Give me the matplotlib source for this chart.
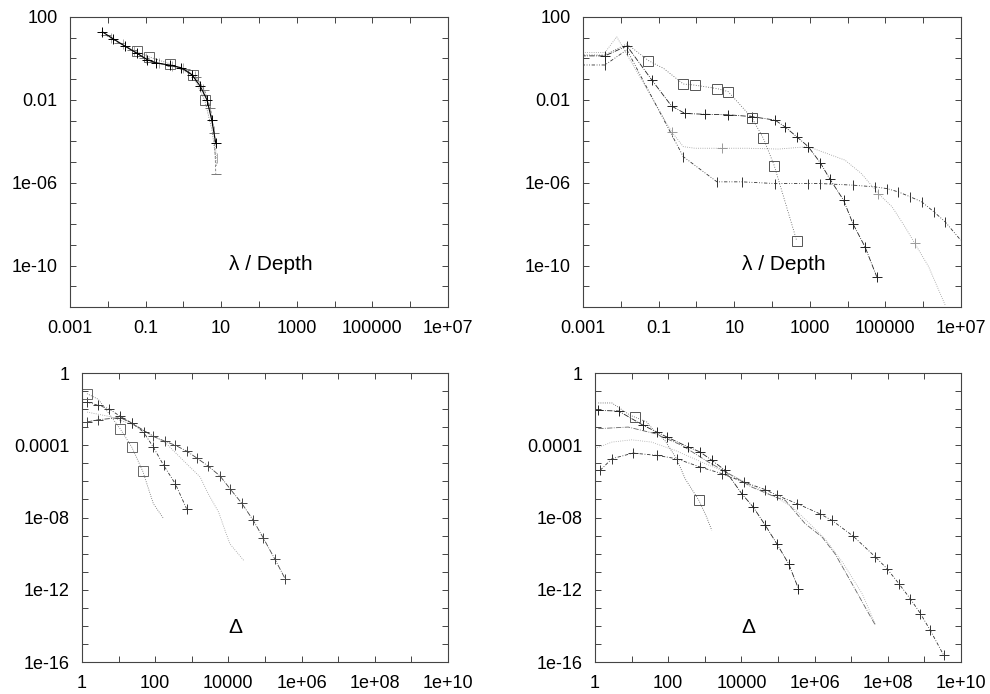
import numpy as np
import matplotlib
matplotlib.use("Agg")
import matplotlib.pyplot as plt
from matplotlib.ticker import FixedLocator, FixedFormatter

plt.rcParams['font.family'] = ['Liberation Sans', 'DejaVu Sans']

# ---- panel 1 (top left): lambda / depth, few layers
p1_a_x = [0.0072, 0.014, 0.029, 0.058, 0.11, 0.19, 0.45, 0.89, 1.7, 2.8, 4.2, 5.6, 7.2]
p1_a_y = [19, 8.7, 3.8, 1.8, 0.87, 0.60, 0.47, 0.35, 0.16, 0.045, 0.010, 1.1e-3, 8.1e-5]
p1_b_x = [0.058, 0.12, 0.45, 1.8, 3.7, 5.8, 7.6]
p1_b_y = [2.2, 1.2, 0.54, 0.15, 0.0093, 3e-4, 6.3e-6]
p1_c_x = [0.009, 0.02, 0.045, 0.09, 0.2, 0.5, 1.1, 2.2, 3.6, 5.2, 6.6, 7.2]
p1_c_y = [13, 5.5, 2.6, 1.05, 0.62, 0.42, 0.30, 0.12, 0.03, 0.004, 2.5e-4, 2.7e-6]
p1_d_x = [0.012, 0.025, 0.05, 0.1, 0.22, 0.5, 1.0, 2.0, 3.4, 5.0, 6.4, 7.6]
p1_d_y = [10, 4.8, 2.2, 1.0, 0.58, 0.42, 0.33, 0.14, 0.035, 0.005, 3e-4, 1.5e-5]

# ---- panel 2 (top right): lambda / depth, more layers
p2_sq_x = [0.0005, 0.0038, 0.0145, 0.054, 0.135, 0.45, 0.91, 3.5, 6.9, 29, 59, 115, 450]
p2_sq_y = [1.45, 1.45, 5.0, 0.78, 0.33, 0.058, 0.051, 0.035, 0.025, 1.4e-3, 1.4e-4, 6.6e-6, 1.6e-9]
p2_a_x = [0.0005, 0.0038, 0.0145, 0.066, 0.22, 0.50, 1.7, 6.9, 29, 120, 220, 450, 910,
          1900, 3400, 7800, 14000, 29000, 59000]
p2_a_y = [1.32, 1.32, 4.0, 0.091, 5.0e-3, 2.2e-3, 2.0e-3, 1.9e-3, 1.55e-3, 1.05e-3, 5.0e-4,
          1.66e-4, 5.5e-5, 9.1e-6, 1.5e-6, 1.45e-7, 1.0e-8, 7.9e-10, 2.9e-11]
p2_b_x = [0.0005, 0.0038, 0.0078, 0.22, 0.45, 0.91, 4.7, 23, 150, 910, 8500, 23000, 65000,
          150000, 330000, 600000, 1.4e6, 3.8e6]
p2_b_y = [1.9, 1.9, 11, 2.9e-4, 5.5e-5, 4.6e-5, 4.6e-5, 4.6e-5, 4.2e-5, 5.5e-5, 1.23e-5,
          2.8e-6, 3.0e-7, 6.9e-8, 7.4e-9, 1.17e-9, 8.7e-11, 1.26e-12]
p2_c_x = [0.0005, 0.0038, 0.0145, 0.45, 3.5, 16, 120, 910, 1900, 14000, 52000, 110000,
          220000, 450000, 910000, 1.9e6, 3.8e6, 9.8e6]
p2_c_y = [0.48, 0.48, 2.6, 1.8e-5, 1.1e-6, 1.1e-6, 9.1e-7, 9.1e-7, 9.1e-7, 7.6e-7, 6.3e-7,
          5.2e-7, 3.6e-7, 2.1e-7, 1.2e-7, 4.0e-8, 1.3e-8, 1.7e-9]

# ---- panel 3 (bottom left): Delta
p3_sq_x = [1.37, 2.8, 11, 23, 46, 89, 170]
p3_sq_y = [0.072, 0.035, 8.3e-4, 7.9e-5, 3.6e-6, 5.9e-8, 8.7e-9]
p3_a_x = [1.38, 2.8, 5.4, 11, 23, 48, 89, 170, 355, 720]
p3_a_y = [0.0245, 0.0162, 0.0107, 4.0e-3, 1.7e-3, 5.4e-4, 7.9e-5, 7.8e-6, 7.4e-7, 3.1e-8]
p3_b_x = [1.38, 5.4, 23, 48, 200, 720, 1700, 2800, 5400, 8100, 11000, 26000]
p3_b_y = [6.9e-3, 4.0e-3, 1.45e-3, 6.8e-4, 1.26e-4, 9.5e-6, 1.74e-6, 2.1e-7, 2.0e-8,
          1.95e-9, 3.5e-10, 4.3e-11]
p3_c_x = [1.38, 2.8, 11, 23, 89, 186, 355, 720, 1380, 2800, 5900, 11000, 23000, 48000,
          89000, 186000, 355000]
p3_c_y = [1.95e-3, 2.6e-3, 3.4e-3, 1.7e-3, 3.1e-4, 1.66e-4, 1.0e-4, 4.8e-5, 1.95e-5,
          7.1e-6, 2.0e-6, 4.0e-7, 6.3e-8, 6.9e-9, 7.6e-10, 5.0e-11, 4.1e-12]

# ---- panel 4 (bottom right): Delta, more layers
p4_sq_x = [1.23, 2.9, 9.1, 12.3, 26, 40, 81, 170, 290, 690, 1120, 1550]
p4_sq_y = [0.022, 0.022, 4.6e-3, 3.6e-3, 1.95e-3, 6.8e-4, 1.86e-4, 1.8e-5, 1.4e-6,
           8.9e-8, 1.07e-8, 1.95e-9]
p4_a_x = [1.23, 4.4, 21, 49, 91, 355, 740, 1550, 3600, 10200, 21000, 45000, 93000,
          195000, 363000]
p4_a_y = [8.5e-3, 7.9e-3, 1.26e-3, 5.4e-4, 2.9e-4, 7.9e-5, 4.3e-5, 1.48e-5, 4.1e-6,
          2.1e-7, 3.8e-8, 3.7e-9, 3.5e-10, 2.75e-11, 1.15e-12]
p4_b_x = [1.23, 8.1, 44, 234, 1260, 4500, 19000, 83000, 158000, 550000, 1.6e6, 3.6e6,
          1.05e7, 2.4e7, 4.6e7]
p4_b_y = [8.3e-4, 1.02e-3, 4.4e-4, 1.0e-4, 1.17e-5, 2.7e-6, 4.9e-7, 1.38e-7, 8.9e-8,
          4.6e-9, 8.3e-10, 1.0e-10, 2.2e-12, 1.1e-13, 1.07e-14]
p4_c_x = [1.0, 2.9, 10, 35, 155, 830, 4500, 20000, 83000, 240000, 700000, 2.0e6, 6.0e6,
          2.0e7, 4.6e7]
p4_c_y = [6.5e-5, 1.5e-4, 2.0e-4, 1.5e-4, 5.2e-5, 1.17e-5, 2.7e-6, 5.6e-7, 1.4e-7,
          4e-8, 5e-9, 6e-10, 3e-11, 6e-13, 1.2e-14]
p4_d_x = [1.38, 2.9, 11, 49, 170, 740, 2900, 11500, 45000, 93000, 330000, 1.4e6, 3.0e6,
          1.15e7, 4.6e7, 9.5e7, 2.0e8, 4.1e8, 7.8e8, 1.45e9, 3.4e9]
p4_d_y = [4.1e-6, 1.8e-5, 3.7e-5, 2.75e-5, 1.8e-5, 6.3e-6, 2.7e-6, 9.3e-7, 3.5e-7,
          1.7e-7, 5.9e-8, 1.6e-8, 6.9e-9, 9.1e-10, 6.5e-11, 1.48e-11, 2.2e-12, 3.2e-13,
          4.8e-14, 5.6e-15, 2.3e-16]

top_xticks = [1e-3, 1e-1, 1e1, 1e3, 1e5, 1e7]
top_xlabels = ['0.001', '0.1', '10', '1000', '100000', '1e+07']
top_yticks = [1e2, 1e-2, 1e-6, 1e-10]
top_ylabels = ['100', '0.01', '1e-06', '1e-10']
bot_xticks = [1, 1e2, 1e4, 1e6, 1e8, 1e10]
bot_xlabels = ['1', '100', '10000', '1e+06', '1e+08', '1e+10']
bot_yticks = [1, 1e-4, 1e-8, 1e-12, 1e-16]
bot_ylabels = ['1', '0.0001', '1e-08', '1e-12', '1e-16']

FRAME = '#444444'


def decade_labels(ticks, labels, lo, hi):
    # one tick per decade, label only the listed ones
    pos, lab = [], []
    for d in range(lo, hi + 1):
        m = [l for t, l in zip(ticks, labels) if round(np.log10(t)) == d]
        pos.append(10.0 ** d)
        lab.append(m[0] if m else '')
    return pos, lab


def setup(ax, xlim, ylim, xt, xl, yt, yl):
    ax.set_xscale('log')
    ax.set_yscale('log')
    ax.set_xlim(*xlim)
    ax.set_ylim(*ylim)
    xpos, xlab = decade_labels(xt, xl, round(np.log10(xlim[0])), round(np.log10(xlim[1])))
    ypos, ylab = decade_labels(yt, yl, round(np.log10(ylim[0])), round(np.log10(ylim[1])))
    ax.xaxis.set_major_locator(FixedLocator(xpos))
    ax.xaxis.set_major_formatter(FixedFormatter(xlab))
    ax.yaxis.set_major_locator(FixedLocator(ypos))
    ax.yaxis.set_major_formatter(FixedFormatter(ylab))
    ax.xaxis.set_minor_locator(FixedLocator([]))
    ax.yaxis.set_minor_locator(FixedLocator([]))
    ax.tick_params(which='major', direction='in', length=4, width=0.7, color=FRAME,
                   top=True, right=True, labelsize=13, pad=9)
    for s in ax.spines.values():
        s.set_color(FRAME)
        s.set_linewidth(0.8)


def draw(ax, x, y, color, ls, marker, ms=7, markevery=None, lw=0.6):
    ax.plot(x, y, color=color, ls=ls, lw=lw, marker=marker, ms=ms, mew=0.7,
            mfc='none', mec=color, markevery=markevery)


fig = plt.figure(figsize=(9.9, 6.94), dpi=100)
ax1 = fig.add_axes([0.0707, 0.5576, 0.3818, 0.418])
ax2 = fig.add_axes([0.5889, 0.5576, 0.3818, 0.418])
ax3 = fig.add_axes([0.0828, 0.0461, 0.3697, 0.4164])
ax4 = fig.add_axes([0.6010, 0.0461, 0.3697, 0.4164])

# panel 1
draw(ax1, p1_d_x, p1_d_y, '#aaaaaa', ':', '|')
draw(ax1, p1_c_x, p1_c_y, '#777777', (0, (3, 2)), '_')
draw(ax1, p1_b_x, p1_b_y, '#666666', ':', 's', markevery=[0, 1, 2, 3, 4])
draw(ax1, p1_a_x, p1_a_y, 'black', '-', '+', lw=0.8)

# panel 2
draw(ax2, p2_b_x, p2_b_y, '#999999', ':', '+', markevery=list(range(3, 18, 3)))
draw(ax2, p2_c_x, p2_c_y, '#333333', (0, (4, 2, 1, 2, 1, 2)), '|')
draw(ax2, p2_a_x, p2_a_y, '#222222', '-.', '+')
draw(ax2, p2_sq_x, p2_sq_y, '#555555', (0, (1, 2)), 's', markevery=[3] + list(range(5, 13)))

# panel 3
draw(ax3, p3_b_x, p3_b_y, '#999999', ':', None)
draw(ax3, p3_c_x, p3_c_y, '#444444', '-.', '+')
draw(ax3, p3_a_x, p3_a_y, '#333333', (0, (4, 2, 1, 2)), '+')
draw(ax3, p3_sq_x, p3_sq_y, '#666666', ':', 's', markevery=[0, 2, 3, 4])

# panel 4
draw(ax4, p4_c_x, p4_c_y, '#aaaaaa', ':', None)
draw(ax4, p4_b_x, p4_b_y, '#666666', '-.', None)
draw(ax4, p4_d_x, p4_d_y, '#333333', (0, (4, 2, 1, 2)), '+')
draw(ax4, p4_a_x, p4_a_y, '#222222', '-.', '+')
draw(ax4, p4_sq_x, p4_sq_y, '#555555', ':', 's', markevery=[3, 9])

setup(ax1, (1e-3, 1e7), (1e-12, 1e2), top_xticks, top_xlabels, top_yticks, top_ylabels)
setup(ax2, (1e-3, 1e7), (1e-12, 1e2), top_xticks, top_xlabels, top_yticks, top_ylabels)
setup(ax3, (1, 1e10), (1e-16, 1), bot_xticks, bot_xlabels, bot_yticks, bot_ylabels)
setup(ax4, (1, 1e10), (1e-16, 1), bot_xticks, bot_xlabels, bot_yticks, bot_ylabels)

for ax in (ax1, ax2):
    ax.text(0.53, 0.145, '\u03bb / Depth', transform=ax.transAxes, fontsize=15,
            ha='center', va='center')
for ax in (ax3, ax4):
    ax.text(0.42, 0.12, '\u0394', transform=ax.transAxes, fontsize=15,
            ha='center', va='center')

fig.savefig('out.png', dpi=100)
